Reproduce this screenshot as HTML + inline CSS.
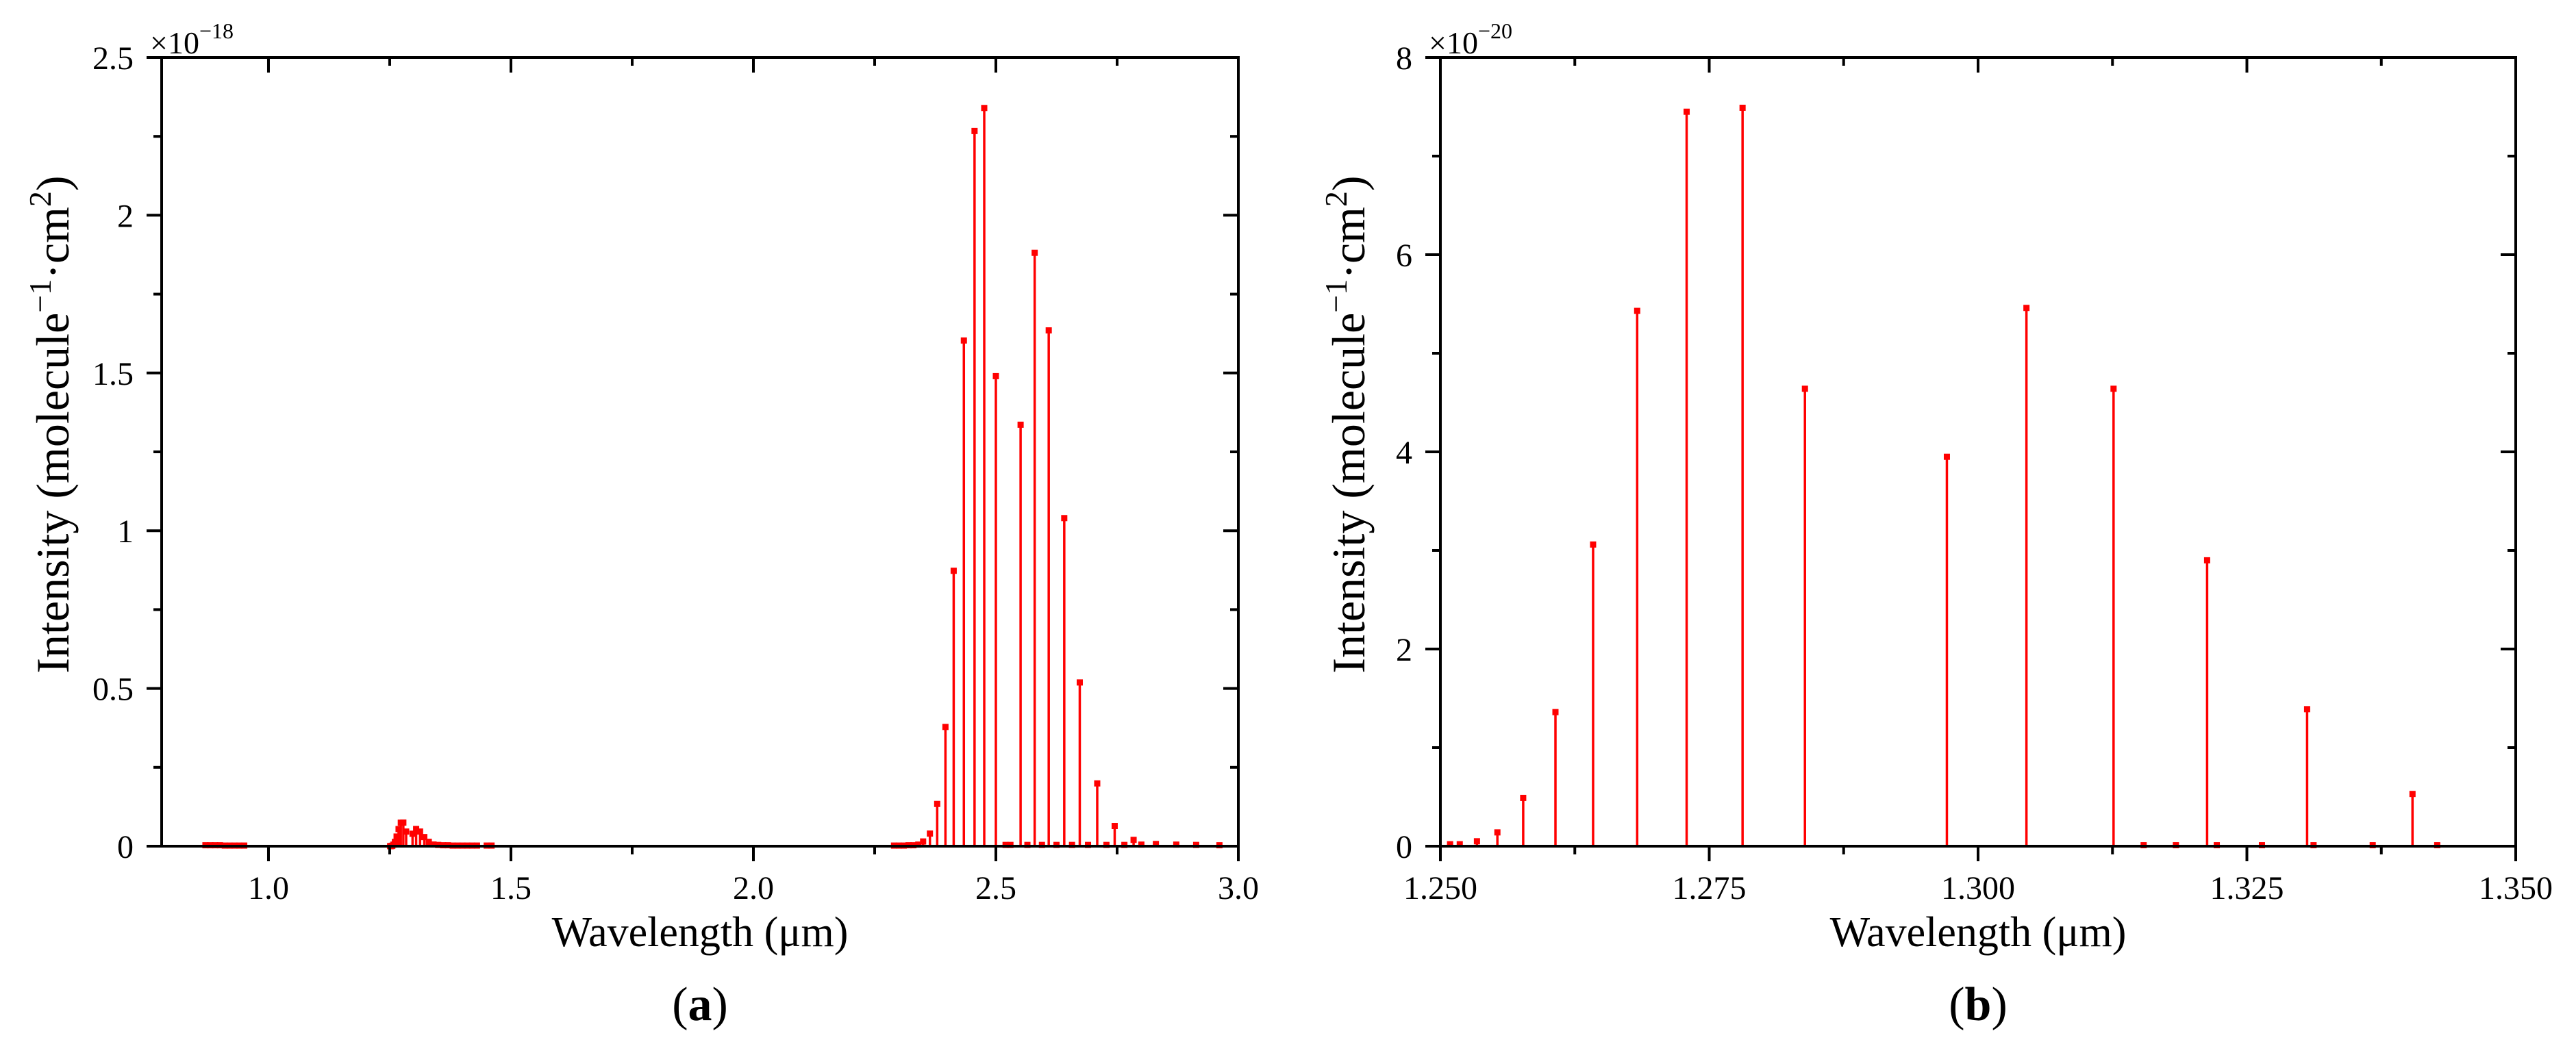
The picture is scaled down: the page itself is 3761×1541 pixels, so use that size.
<!DOCTYPE html>
<html><head><meta charset="utf-8"><style>
html,body{margin:0;padding:0;background:#fff;}
svg{display:block;font-family:"Liberation Serif",serif;}
</style></head><body>
<svg id="fig" width="3761" height="1541" viewBox="0 0 3761 1541" xmlns="http://www.w3.org/2000/svg">
<rect width="3761" height="1541" fill="#fff"/>
</svg>
<script>
// Panel (a) data: wavelength (µm), intensity (×1e-18)
const aWavelengths = [0.87,0.88,0.89,0.90,0.91,0.92,0.93,0.94,0.95,
 1.2509,1.2518,1.2534,1.2553,1.2577,1.2607,1.2642,1.2683,1.2729,1.2781,1.2839,1.2971,1.3045,1.3126,1.3213,1.3306,1.3404,
 1.35,1.36,1.37,1.38,1.39,1.40,1.41,1.42,1.43,1.45,1.46,
 2.29,2.30,2.31,2.32,2.33,2.34,2.350,2.364,2.379,2.396,2.413,2.434,2.456,2.476,2.500,2.52,2.53,2.551,2.565,2.580,2.595,2.609,2.625,2.641,2.657,2.673,2.690,2.709,2.728,2.745,2.765,2.784,2.80,2.830,2.872,2.913,2.961];
const aIntensities = [0.003,0.003,0.003,0.003,0.002,0.002,0.002,0.002,0.002,
 0.0002,0.0002,0.0005,0.0014,0.0049,0.0136,0.0306,0.0543,0.0745,0.0749,0.0464,0.0395,0.0546,0.0464,0.029,0.0139,0.0053,
 0.004,0.003,0.003,0.002,0.002,0.002,0.002,0.002,0.002,0.002,0.002,
 0.002,0.002,0.002,0.003,0.003,0.005,0.015,0.04,0.134,0.378,0.873,1.603,2.267,2.34,1.49,0.004,0.004,1.336,0.004,1.881,0.004,1.635,0.004,1.04,0.004,0.519,0.004,0.199,0.004,0.064,0.004,0.02,0.005,0.007,0.005,0.004,0.003];
const aXTicks = [1.0,1.5,2.0,2.5,3.0];
const aXTickLabels = ["1.0","1.5","2.0","2.5","3.0"];
const aYTicks = [0,0.5,1,1.5,2,2.5];
const aYTickLabels = ["0","0.5","1","1.5","2","2.5"];

// Panel (b) data: wavelength (µm), intensity (×1e-20)
const bWavelengths = [1.2509,1.2518,1.2534,1.2553,1.2577,1.2607,1.2642,1.2683,1.2729,1.2781,1.2839,1.2971,1.3045,1.3126,1.3154,1.3184,1.3213,1.3222,1.3264,1.3306,1.3312,1.3367,1.3404,1.3427];
const bIntensities = [0.02,0.02,0.05,0.14,0.49,1.36,3.06,5.43,7.45,7.49,4.64,3.95,5.46,4.64,0.01,0.01,2.90,0.01,0.01,1.39,0.01,0.01,0.53,0.01];
const bXTicks = [1.25,1.275,1.3,1.325,1.35];
const bXTickLabels = ["1.250","1.275","1.300","1.325","1.350"];
const bYTicks = [0,2,4,6,8];
const bYTickLabels = ["0","2","4","6","8"];

const NS = "http://www.w3.org/2000/svg";
const svg = document.getElementById('fig');
function mk(tag, attrs, parent){
  const e = document.createElementNS(NS, tag);
  for (const k in attrs) e.setAttribute(k, attrs[k]);
  (parent||svg).appendChild(e);
  return e;
}

function panel(cfg){
  const g = mk('g', {});
  
  
  const L=cfg.left, R=cfg.right, T=84, B=1236;
  const sx = v => L + (v - cfg.xmin)/(cfg.xmax - cfg.xmin)*(R-L);
  const sy = v => B - (v - cfg.ymin)/(cfg.ymax - cfg.ymin)*(B-T);

  const sg = mk('g', {}, g);
  
  
  cfg.xs.forEach((x,i)=>{
    const px = sx(x), py = sy(cfg.ys[i]);
    const ln = mk('line', {x1:px, x2:px, y1:B, y2:py, stroke:'#ff0000', 'stroke-width':3.5}, sg);
    
    
    const m = mk('rect', {x:px-4.5, y:py-4.5, width:9, height:9, fill:'#ff0000'}, sg);
    
    
  });

  const box = mk('rect', {x:L, y:T, width:R-L, height:B-T, fill:'none', stroke:'#000', 'stroke-width':4}, g);
  
  

  const xt = [];
  for (let v = cfg.xMinorStart; v <= cfg.xmax + 1e-9; v += cfg.xMinor) xt.push(v);
  xt.forEach(v=>{
    const isMajor = cfg.xTicks.some(t=>Math.abs(t-v)<1e-6);
    const px = sx(v), len = isMajor?22:12;
    mk('line',{x1:px,x2:px,y1:B,y2:B+len,stroke:'#000','stroke-width':4},g);
    mk('line',{x1:px,x2:px,y1:T,y2:T+len,stroke:'#000','stroke-width':4},g);
  });
  cfg.xTicks.forEach((v,i)=>{
    const t = mk('text',{x:sx(v),y:1313,'text-anchor':'middle','font-size':48,fill:'#000'},g);
    t.textContent = cfg.xLabels[i];
    
    
  });
  for (let v = cfg.ymin; v <= cfg.ymax + 1e-9; v += cfg.yMinor){
    const isMajor = cfg.yTicks.some(t=>Math.abs(t-v)<1e-6);
    const py = sy(v), len = isMajor?22:12;
    mk('line',{x1:L-len,x2:L,y1:py,y2:py,stroke:'#000','stroke-width':4},g);
    mk('line',{x1:R-len,x2:R,y1:py,y2:py,stroke:'#000','stroke-width':4},g);
  }
  cfg.yTicks.forEach((v,i)=>{
    const t = mk('text',{x:L-41,y:sy(v)+17,'text-anchor':'end','font-size':48,fill:'#000'},g);
    t.textContent = cfg.yLabels[i];
    
    
  });
  const mul = mk('text',{x:L-17,y:78,'font-size':46,fill:'#000'},g);
  
  
  mul.innerHTML = '×10<tspan dy="-22" font-size="32">−'+cfg.exp+'</tspan>';
  const xtl = mk('text',{x:(L+R)/2,y:1382,'text-anchor':'middle','font-size':62,fill:'#000'},g);
  xtl.textContent = 'Wavelength (μm)';
  
  
  const yt = mk('text',{x:0,y:0,'text-anchor':'middle','font-size':68,fill:'#000',transform:'translate('+cfg.yTitleX+',620) rotate(-90)'},g);
  
  
  yt.innerHTML = 'Intensity (molecule<tspan dy="-26" font-size="46">−1</tspan><tspan dy="26">·cm</tspan><tspan dy="-26" font-size="46">2</tspan><tspan dy="26">)</tspan>';
  const pl = mk('text',{x:(L+R)/2,y:1490,'text-anchor':'middle','font-size':70,fill:'#000'},g);
  
  
  pl.innerHTML = '(<tspan font-weight="bold">'+cfg.letter+'</tspan>)';
}

panel({name:'panel-a', left:236, right:1808, xmin:0.7797, xmax:3.0, ymin:0, ymax:2.5,
  xs:aWavelengths, ys:aIntensities, xTicks:aXTicks, xLabels:aXTickLabels, yTicks:aYTicks, yLabels:aYTickLabels,
  xMinor:0.25, xMinorStart:1.0, yMinor:0.25, exp:'18', yTitleX:100, letter:'a'});
panel({name:'panel-b', left:2103, right:3673, xmin:1.25, xmax:1.35, ymin:0, ymax:8,
  xs:bWavelengths, ys:bIntensities, xTicks:bXTicks, xLabels:bXTickLabels, yTicks:bYTicks, yLabels:bYTickLabels,
  xMinor:0.0125, xMinorStart:1.25, yMinor:1, exp:'20', yTitleX:1992, letter:'b'});
</script>
</body></html>
